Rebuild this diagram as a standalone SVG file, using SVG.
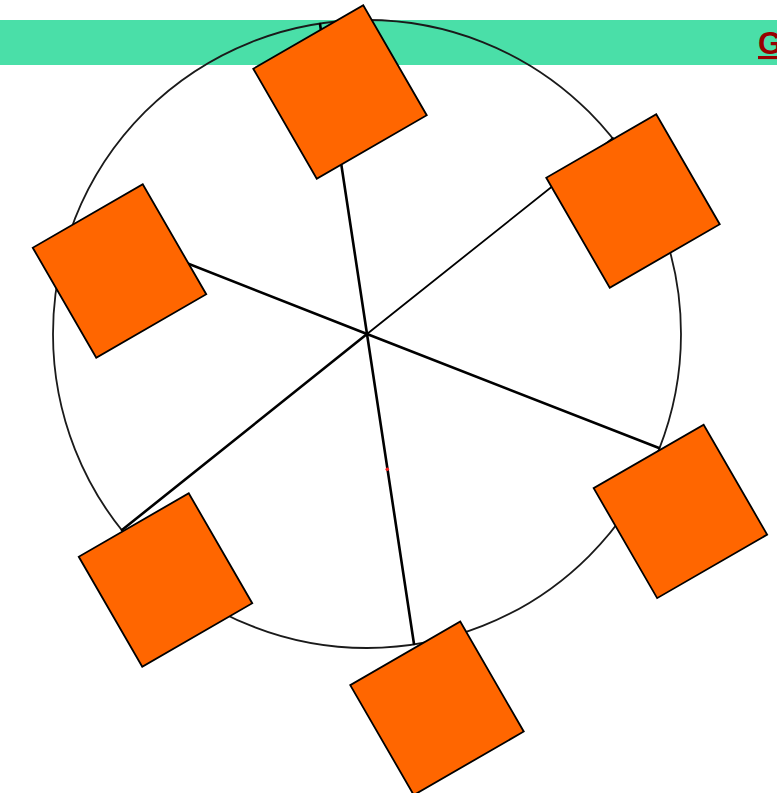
<svg xmlns="http://www.w3.org/2000/svg" width="777" height="793" viewBox="0 0 777 793">
<style>
.band{fill:#4ADFA8}
.ring{fill:none;stroke:#1a1a1a;stroke-width:1.8}
.spoke{stroke:#000;stroke-width:2.6;stroke-linecap:round}
.thin{stroke-width:1.8}
.sq{fill:#FF6600;stroke:#000;stroke-width:1.8}
.title{font-family:"Liberation Sans",Arial,sans-serif;font-weight:bold;font-size:31px;fill:#990000;text-decoration:underline}
</style>
<defs>
<rect id="box" x="-63.5" y="-63.5" width="127" height="127"/>
</defs>
<rect class="band" x="0" y="20" width="777" height="45"/>
<text class="title" x="758" y="54">G</text>
<circle class="ring" cx="367" cy="334" r="314"/>
<g id="connectors">
<line class="spoke" x1="367" y1="334" x2="320" y2="24"/>
<line class="spoke thin" x1="367" y1="334" x2="613" y2="138"/>
<line class="spoke" x1="367" y1="334" x2="659" y2="448"/>
<line class="spoke" x1="367" y1="334" x2="414" y2="644"/>
<line class="spoke" x1="367" y1="334" x2="122" y2="530"/>
<line class="spoke" x1="367" y1="334" x2="90" y2="225"/>
</g>
<g id="node-top"><use href="#box" class="sq" transform="translate(340 92) rotate(-30)"/></g>
<g id="node-upper-right"><use href="#box" class="sq" transform="translate(633 201) rotate(-30)"/></g>
<g id="node-lower-right"><use href="#box" class="sq" transform="translate(680.4 511.4) rotate(-30)"/></g>
<g id="node-bottom"><use href="#box" class="sq" transform="translate(437 708.3) rotate(-30)"/></g>
<g id="node-lower-left"><use href="#box" class="sq" transform="translate(165.5 580) rotate(-30)"/></g>
<g id="node-left"><use href="#box" class="sq" transform="translate(119.5 271) rotate(-30)"/></g>
<circle cx="387.3" cy="469.3" r="1.8" fill="#ff2020"/>
</svg>
